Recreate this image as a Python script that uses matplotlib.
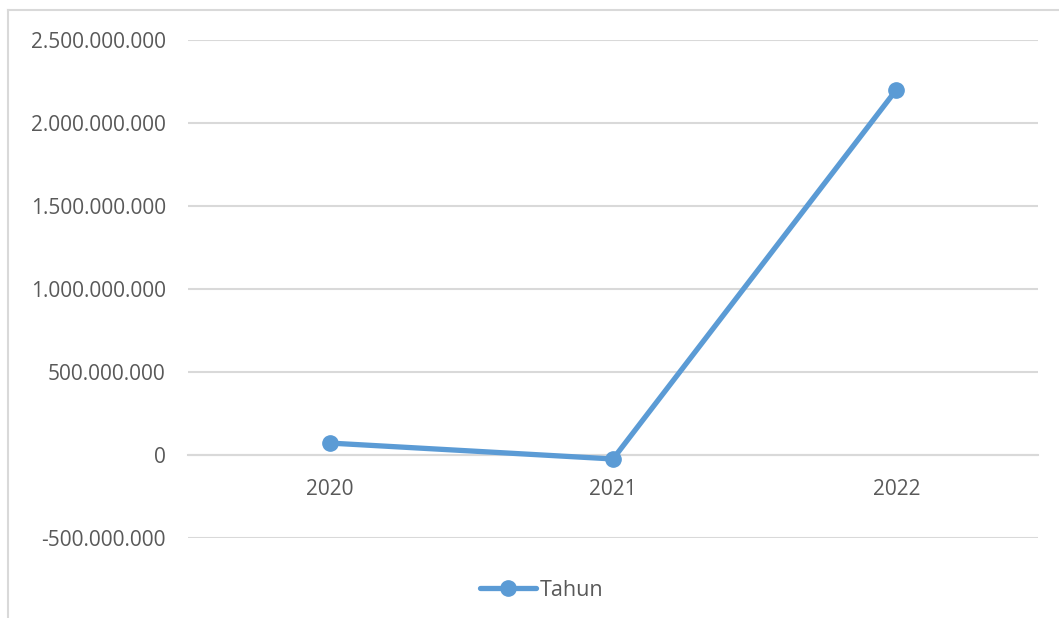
import matplotlib.pyplot as plt
from matplotlib.lines import Line2D
from matplotlib.ticker import FuncFormatter

# Data
years = ['2020', '2021', '2022']
values = [72_000_000, -24_000_000, 2_200_000_000]
series_name = 'Tahun'
y_ticks = [-500_000_000, 0, 500_000_000, 1_000_000_000,
           1_500_000_000, 2_000_000_000, 2_500_000_000]

line_color = '#5B9BD5'
grid_color = '#D9D9D9'
text_color = '#595959'

plt.rcParams['font.family'] = ['Open Sans', 'DejaVu Sans']

fig = plt.figure(figsize=(10.59, 6.18), dpi=100)
ax = fig.add_axes([188 / 1059, 1 - 538 / 618, 850 / 1059, 498 / 618])

x = range(len(years))
ax.plot(x, values, color=line_color, linewidth=3.8, marker='o',
        markersize=11, solid_capstyle='round', label=series_name, zorder=3)

ax.set_xlim(-0.5, len(years) - 0.5)
ax.set_ylim(y_ticks[0], y_ticks[-1])
ax.set_yticks(y_ticks)
ax.yaxis.set_major_formatter(FuncFormatter(lambda v, _: f'{int(v):,}'.replace(',', '.')))
ax.set_xticks(list(x))
ax.set_xticklabels(years)

# Gridlines and the category axis sitting at zero
ax.grid(axis='y', color=grid_color, linewidth=1.5)
ax.set_axisbelow(True)
for side in ['top', 'right', 'left']:
    ax.spines[side].set_visible(False)
ax.spines['bottom'].set_position(('data', 0))
ax.spines['bottom'].set_color(grid_color)
ax.spines['bottom'].set_linewidth(1.5)
ax.tick_params(axis='both', length=0, labelsize=15, labelcolor=text_color)
ax.tick_params(axis='y', pad=16)
ax.tick_params(axis='x', pad=17)

fig.legend(loc='center', bbox_to_anchor=(0.5 + 12 / 1059, 1 - 590 / 618),
           frameon=False, fontsize=15.5, labelcolor=text_color,
           handlelength=2.6, handletextpad=0.15)

# Chart area border (left and top edges)
fig.add_artist(Line2D([8 / 1059, 8 / 1059], [0, 1 - 10 / 618],
                      transform=fig.transFigure, color=grid_color, linewidth=1.5))
fig.add_artist(Line2D([8 / 1059, 1], [1 - 10 / 618, 1 - 10 / 618],
                      transform=fig.transFigure, color=grid_color, linewidth=1.5))

fig.savefig('out.png', dpi=100)
